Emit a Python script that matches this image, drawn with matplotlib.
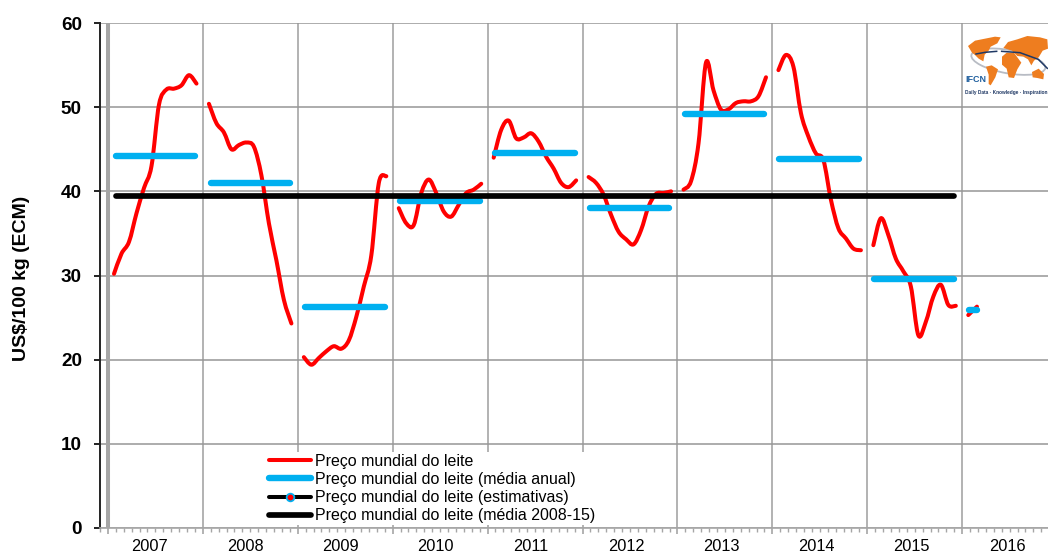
import matplotlib
import numpy as np

matplotlib.use("Agg")
import matplotlib.pyplot as plt  # noqa: E402
from matplotlib.lines import Line2D  # noqa: E402
from matplotlib.patches import Ellipse, PathPatch, Polygon  # noqa: E402
from matplotlib.path import Path  # noqa: E402

plt.rcParams["font.family"] = ["Liberation Sans", "DejaVu Sans"]

YEARS = [2007, 2008, 2009, 2010, 2011, 2012, 2013, 2014, 2015, 2016]
PRICE_2007 = [30.2, 32.6, 34, 37.4, 40.4, 43, 50.3, 52.1, 52.2, 52.6, 53.8, 52.8]
PRICE_2008 = [50.4, 48.1, 47, 45, 45.5, 45.8, 45.3, 41.9, 36.2, 31.8, 27.1, 24.3]
PRICE_2009 = [20.3, 19.4, 20.2, 21, 21.6, 21.3, 22.3, 25.1, 28.7, 32.4, 41, 41.8]
PRICE_2010 = [38, 36.2, 36, 39.8, 41.4, 39.8, 37.6, 37, 38.4, 39.8, 40.2, 40.9]
PRICE_2011 = [44, 47.3, 48.4, 46.3, 46.4, 46.9, 45.9, 44.1, 42.7, 41, 40.5, 41.3]
PRICE_2012 = [41.7, 41, 39.6, 37.2, 35.2, 34.3, 33.7, 35.4, 38.2, 39.7, 39.8, 40]
PRICE_2013 = [40.2, 41.2, 45.7, 55.3, 52, 49.7, 49.75, 50.5, 50.7, 50.7, 51.3, 53.55]
PRICE_2014 = [54.4, 56.2, 54.8, 49.3, 46.5, 44.5, 43.7, 39, 35.6, 34.4, 33.2, 33]
PRICE_2015 = [33.6, 36.8, 34.8, 32, 30.5, 28.7, 22.9, 24.5, 27.5, 28.9, 26.5, 26.4]
PRICE_2016 = [25.3, 26.3]
PRICES = [PRICE_2007, PRICE_2008, PRICE_2009, PRICE_2010, PRICE_2011,
          PRICE_2012, PRICE_2013, PRICE_2014, PRICE_2015, PRICE_2016]
ANNUAL_MEAN = [44.2, 41, 26.2, 38.8, 44.5, 38, 49.2, 43.9, 29.6, 25.9]
MEAN_2008_15 = 39.45
LEGEND_LABELS = [
    "Preço mundial do leite",
    "Preço mundial do leite (média anual)",
    "Preço mundial do leite (estimativas)",
    "Preço mundial do leite (média 2008-15)",
]

RED = "#ff0000"
BLUE = "#00b0f0"
GRID_H = "#969696"
GRID_V = "#a6a6a6"
MONTH_STEP = 0.948


def smooth_path(x, y):
    # same idea as excel smoothed lines: bezier through every point
    points = np.column_stack([x, y])
    padded = np.vstack([points[0], points, points[-1]])
    verts = [points[0]]
    for i in range(1, len(padded) - 2):
        verts.append(padded[i] + (padded[i + 1] - padded[i - 1]) / 6)
        verts.append(padded[i + 1] - (padded[i + 2] - padded[i]) / 6)
        verts.append(padded[i + 1])
    codes = [Path.MOVETO] + [Path.CURVE4] * (len(verts) - 1)
    return Path(verts, codes)


def draw_logo(figure):
    # coordinates are just a rough trace of the logo
    logo = figure.add_axes([962 / 1048, 1 - 100 / 555, 86 / 1048, 65 / 555])
    logo.set_xlim(66, 324)
    logo.set_ylim(240, 45)
    logo.axis("off")
    logo.add_patch(Ellipse((205, 125), 225, 70, angle=10, fill=False, ec="#b8bcc4", lw=1.3))
    shapes = [
        [(84, 78), (105, 62), (135, 56), (165, 50), (182, 52), (172, 70), (152, 80), (146, 92),
         (134, 104), (130, 124), (116, 116), (106, 106), (96, 98)],
        [(138, 140), (155, 136), (174, 148), (166, 172), (152, 196), (146, 192), (146, 164)],
        [(186, 110), (200, 98), (222, 98), (232, 112), (244, 128), (232, 148), (222, 174),
         (206, 172), (200, 146), (186, 134)],
        [(190, 84), (204, 66), (232, 58), (262, 48), (300, 52), (322, 58), (324, 86), (308, 92),
         (296, 112), (282, 122), (274, 136), (264, 118), (250, 110), (232, 108), (216, 92)],
        [(276, 156), (296, 146), (312, 162), (310, 178), (292, 174), (278, 172)],
    ]
    for shape in shapes:
        logo.add_patch(Polygon(shape, closed=True, color="#ee7d1f", lw=0))
    logo.plot([108, 135, 170], [102, 97, 94], color="#1f3864", lw=1.1)
    logo.plot([185, 240, 295, 322], [94, 98, 118, 145], color="#1f3864", lw=1.1)
    logo.text(76, 180, "IFCN", color="#1f5f9e", fontsize=6.5, fontweight="bold", va="center")
    logo.text(76, 218, "Daily Data · Knowledge · Inspiration", color="#1f3864", fontsize=3.4,
              fontweight="bold", va="center")


def main():
    figure = plt.figure(figsize=(10.48, 5.55), dpi=100)
    axis = figure.add_axes([100 / 1048, 1 - 528 / 555, 948 / 1048, 505 / 555])
    axis.set_xlim(0, 119.85)
    axis.set_ylim(0, 60)

    for i, values in enumerate(PRICES):
        last = i == len(PRICES) - 1
        start = 1.77 + 12 * i
        x = start + np.arange(len(values)) * (1.1 if last else MONTH_STEP)
        axis.add_patch(PathPatch(smooth_path(x, values), fill=False, edgecolor=RED, lw=2.9,
                                 capstyle="round", joinstyle="round", zorder=3))
        left = 2.02 + 11.98 * i
        axis.plot([left, left + (1.0 if last else 10.05)], [ANNUAL_MEAN[i]] * 2, color=BLUE,
                  lw=4.6, solid_capstyle="round", zorder=4)
    axis.plot([2.02, 108], [MEAN_2008_15] * 2, color="black", lw=4.1, solid_capstyle="round",
              zorder=5)

    axis.set_yticks(np.arange(0, 61, 10))
    axis.set_xticks(np.arange(1, 120, 12))
    axis.set_xticks(np.arange(0, 120), minor=True)
    axis.set_xticklabels([])
    axis.grid(True, which="major", axis="y", color=GRID_H, lw=1.1)
    axis.grid(True, which="major", axis="x", color=GRID_V, lw=1.2)
    axis.set_axisbelow(True)
    axis.axvline(1.0, color=GRID_V, lw=2.9, zorder=1)
    axis.tick_params(axis="y", length=4.5, width=1.4, color="#222222", pad=8.5, labelsize=13.6)
    axis.tick_params(axis="x", which="major", length=4, width=1.2, color=GRID_V)
    axis.tick_params(axis="x", which="minor", length=3, width=1, color=GRID_V)
    for label in axis.get_yticklabels():
        label.set_fontweight("bold")
    axis.spines["top"].set_visible(False)
    axis.spines["right"].set_visible(False)
    axis.spines["left"].set_color("#222222")
    axis.spines["left"].set_linewidth(1.4)
    axis.spines["bottom"].set_color(GRID_V)
    axis.spines["bottom"].set_linewidth(1.2)

    label_transform = axis.get_xaxis_transform()
    for i, year in enumerate(YEARS):
        axis.text(6.32 + 12.04 * i, -0.0376, str(year), transform=label_transform, ha="center",
                  va="center", fontsize=11.8, clip_on=False)
    figure.text(22 / 1048, 1 - 278 / 555, "US$/100 kg (ECM)", rotation=90, ha="center",
                va="center", fontsize=14, fontweight="bold")

    handles = [
        Line2D([], [], color=RED, lw=2.9, solid_capstyle="round"),
        Line2D([], [], color=BLUE, lw=4.6, solid_capstyle="round"),
        Line2D([], [], color="black", lw=2.9, solid_capstyle="round", marker="o", markersize=5.5,
               markerfacecolor=RED, markeredgecolor=BLUE, markeredgewidth=1.3),
        Line2D([], [], color="black", lw=4.1, solid_capstyle="round"),
    ]
    legend = axis.legend(handles, LEGEND_LABELS, loc="lower left",
                         bbox_to_anchor=(0.177, 0.006), fontsize=11.5, frameon=True,
                         facecolor="white", edgecolor="none", framealpha=1, fancybox=False,
                         handlelength=2.6, handletextpad=0.25, labelspacing=0.2,
                         borderpad=0.1, borderaxespad=0)
    legend.set_zorder(6)

    draw_logo(figure)
    figure.savefig("out.png", dpi=100)
    plt.close(figure)


if __name__ == "__main__":
    main()
